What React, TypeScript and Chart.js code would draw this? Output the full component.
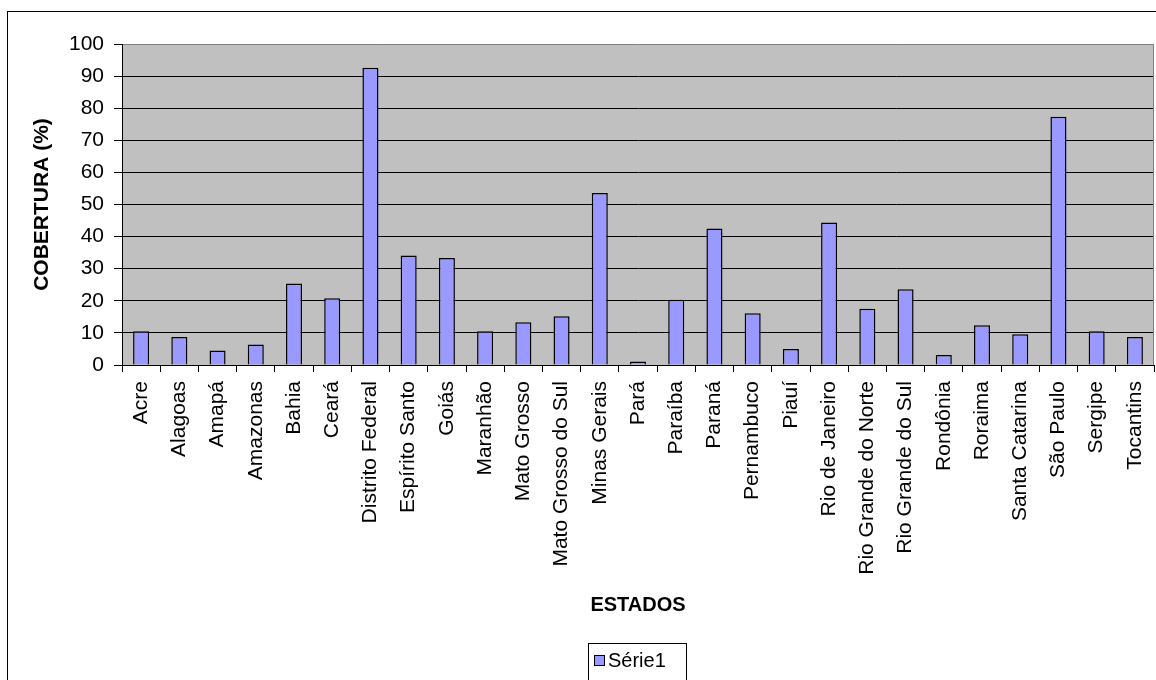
import React, { useEffect, useRef } from "react";
import { Chart, registerables } from "chart.js";

Chart.register(...registerables);

const categories: string[] = [
  "Acre", "Alagoas", "Amapá", "Amazonas", "Bahia", "Ceará", "Distrito Federal",
  "Espírito Santo", "Goiás", "Maranhão", "Mato Grosso", "Mato Grosso do Sul",
  "Minas Gerais", "Pará", "Paraíba", "Paraná", "Pernambuco", "Piauí",
  "Rio de Janeiro", "Rio Grande do Norte", "Rio Grande do Sul", "Rondônia",
  "Roraima", "Santa Catarina", "São Paulo", "Sergipe", "Tocantins",
];

const serie1: number[] = [
  10.5, 8.7, 4.5, 6.4, 25.4, 20.8, 92.6,
  34.1, 33.3, 10.5, 13.3, 15.2,
  53.6, 1.1, 20.3, 42.5, 16.1, 5.0,
  44.4, 17.5, 23.6, 3.1,
  12.4, 9.6, 77.3, 10.5, 8.7,
];

const seriesName = "Série1";
const yTitle = "COBERTURA (%)";
const xTitle = "ESTADOS";

const FONT = "'Liberation Sans', Arial, sans-serif";

const decorPlugin = {
  id: "decor",
  beforeDraw(chart: any) {
    const { ctx, chartArea } = chart;
    ctx.save();
    ctx.fillStyle = "#ffffff";
    ctx.fillRect(0, 0, chart.width, chart.height);
    ctx.fillStyle = "#C0C0C0";
    ctx.fillRect(chartArea.left, chartArea.top, chartArea.right - chartArea.left, chartArea.bottom - chartArea.top);
    ctx.strokeStyle = "#000";
    ctx.lineWidth = 1;
    ctx.strokeRect(7.5, 11.5, chart.width + 20, chart.height + 20);
    ctx.restore();
  },
  afterDraw(chart: any) {
    const { ctx, chartArea } = chart;
    ctx.save();
    ctx.strokeStyle = "#808080";
    ctx.lineWidth = 1;
    ctx.beginPath();
    ctx.moveTo(Math.round(chartArea.right) - 0.5, chartArea.top);
    ctx.lineTo(Math.round(chartArea.right) - 0.5, chartArea.bottom);
    ctx.stroke();
    const ds = chart.data.datasets[0];
    ctx.strokeStyle = "#000";
    ctx.strokeRect(588.5, 643.5, 98, 60);
    ctx.fillStyle = ds.backgroundColor;
    ctx.fillRect(594.5, 655.5, 10, 10);
    ctx.strokeRect(594.5, 655.5, 10, 10);
    ctx.fillStyle = "#000";
    ctx.font = `20px ${FONT}`;
    ctx.textBaseline = "middle";
    ctx.textAlign = "left";
    ctx.fillText(ds.label, 608, 661);
    ctx.restore();
  },
};

export default function App() {
  const ref = useRef<HTMLCanvasElement | null>(null);
  useEffect(() => {
    if (!ref.current) return;
    const chart = new Chart(ref.current, {
      type: "bar",
      data: {
        labels: categories,
        datasets: [
          {
            label: seriesName,
            data: serie1,
            backgroundColor: "#9999FF",
            borderColor: "#000000",
            borderWidth: 1.5,
            barPercentage: 0.42,
            categoryPercentage: 1,
          },
        ],
      },
      options: {
        animation: false,
        responsive: false,
        maintainAspectRatio: false,
        layout: { padding: { left: 0, top: 44, right: 2, bottom: 0 } },
        plugins: {
          legend: { display: false },
          tooltip: { enabled: false },
        },
        scales: {
          x: {
            offset: true,
            grid: {
              display: true,
              offset: true,
              drawOnChartArea: false,
              drawTicks: true,
              tickLength: 7,
              tickColor: "#000",
              color: "#000",
            },
            border: { display: true, color: "#000", width: 1 },
            ticks: {
              minRotation: 90,
              maxRotation: 90,
              autoSkip: false,
              padding: 9,
              color: "#000",
              font: { family: FONT, size: 21 },
            },
            title: {
              display: true,
              text: xTitle,
              color: "#000",
              font: { family: FONT, size: 20, weight: "bold" },
              padding: { top: 0, bottom: 63 },
            },
            afterFit(scale: any) {
              scale.height = 315;
              scale.paddingLeft = 0;
              scale.paddingRight = 0;
            },
          },
          y: {
            min: 0,
            max: 100,
            ticks: {
              stepSize: 10,
              padding: 10,
              color: "#000",
              font: { family: FONT, size: 21 },
            },
            grid: {
              color: (c: any) => (c.tick && c.tick.value === 100 ? "#808080" : "#000"),
              lineWidth: 1,
              drawTicks: true,
              tickLength: 8,
              tickColor: "#000",
            },
            border: { display: true, color: "#000", width: 1 },
            title: {
              display: true,
              text: yTitle,
              color: "#000",
              font: { family: FONT, size: 21, weight: "bold" },
              padding: { top: 30, bottom: 0 },
            },
            afterFit(scale: any) {
              scale.width = 122;
              scale.paddingTop = 0;
              scale.paddingBottom = 0;
            },
          },
        },
      },
      plugins: [decorPlugin],
    });
    return () => chart.destroy();
  }, []);
  return (
    <div style={{ position: "fixed", left: 0, top: 0, width: 1156, height: 680, background: "#fff" }}>
      <canvas ref={ref} width={1156} height={680} style={{ display: "block", width: 1156, height: 680 }} />
    </div>
  );
}
